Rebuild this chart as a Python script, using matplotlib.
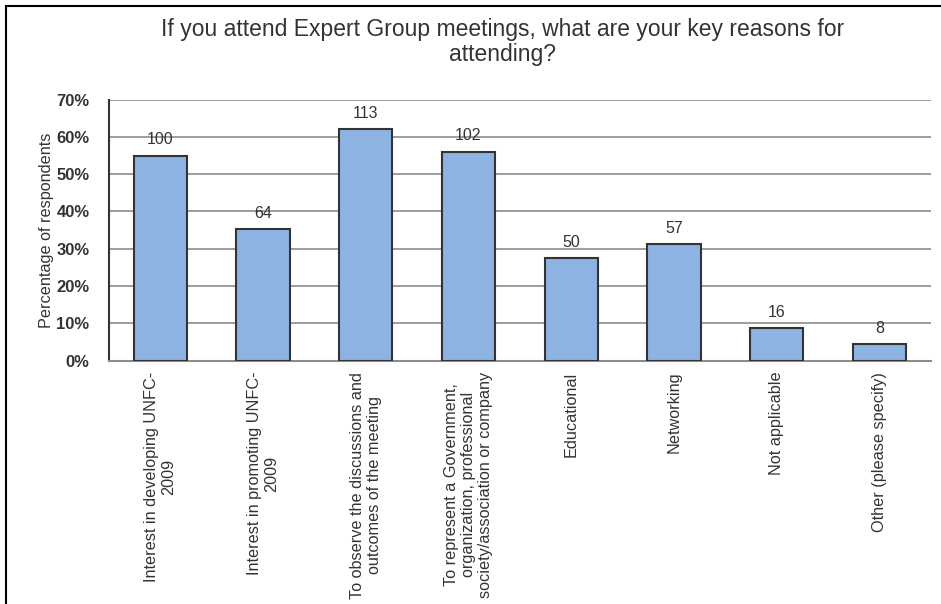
import numpy as np
import matplotlib.pyplot as plt
from matplotlib.lines import Line2D
from matplotlib.ticker import PercentFormatter

# Survey responses: reasons for attending Expert Group meetings
categories = [
    "Interest in developing UNFC-\n2009",
    "Interest in promoting UNFC-\n2009",
    "To observe the discussions and\noutcomes of the meeting",
    "To represent a Government,\norganization, professional\nsociety/association or company",
    "Educational",
    "Networking",
    "Not applicable",
    "Other (please specify)",
]
counts = [100, 64, 113, 102, 50, 57, 16, 8]
total_respondents = 182

share = np.array(counts) / total_respondents * 100

plt.rcParams['font.family'] = ['Liberation Sans', 'DejaVu Sans']
text_color = '#333333'

fig = plt.figure(figsize=(9.41, 6.04), dpi=100)
ax = fig.add_axes([109 / 941, 1 - 360.7 / 604, (930.7 - 109) / 941, (360.7 - 99.5) / 604])

x = np.arange(len(categories))
ax.bar(x, share, width=0.52, color='#8DB3E2', edgecolor='#333333', linewidth=1.5, zorder=3)

for xi, yi, c in zip(x, share, counts):
    ax.annotate(str(c), (xi, yi), xytext=(0, 6), textcoords='offset points',
                ha='center', va='bottom', fontsize=11.5, color=text_color)

ax.set_xlim(-0.5, len(categories) - 0.5)
ax.set_ylim(0, 70)
ax.set_yticks(np.arange(0, 71, 10))
ax.yaxis.set_major_formatter(PercentFormatter(decimals=0))
ax.grid(axis='y', color='#8c8c8c', linewidth=1.2, zorder=0)

ax.set_xticks(x)
ax.set_xticklabels(categories, rotation=90, ha='center', va='top',
                   multialignment='center', fontsize=11.7, color=text_color,
                   linespacing=1.15)
for lbl in ax.get_yticklabels():
    lbl.set_fontweight('bold')
    lbl.set_fontsize(12)
    lbl.set_color(text_color)

ax.tick_params(axis='both', length=0)
ax.tick_params(axis='y', pad=14)
ax.tick_params(axis='x', pad=8)

for side in ('top', 'right'):
    ax.spines[side].set_visible(False)
ax.spines['left'].set_color('#333333')
ax.spines['left'].set_linewidth(1.5)
ax.spines['bottom'].set_color('#8c8c8c')
ax.spines['bottom'].set_linewidth(1.5)

ax.set_ylabel('Percentage of respondents', fontsize=11.7, color=text_color, labelpad=2)

fig.text(0.534, 0.931,
         'If you attend Expert Group meetings, what are your key reasons for\nattending?',
         ha='center', va='center', fontsize=16.5, color=text_color, linespacing=1.1)

# outer frame (top and left edges)
fig.add_artist(Line2D([6 / 941, 1], [1 - 6 / 604, 1 - 6 / 604], color='black', linewidth=1.5,
                      transform=fig.transFigure))
fig.add_artist(Line2D([6 / 941, 6 / 941], [0, 1 - 6 / 604], color='black', linewidth=1.5,
                      transform=fig.transFigure))

fig.savefig('out.png', dpi=100)
